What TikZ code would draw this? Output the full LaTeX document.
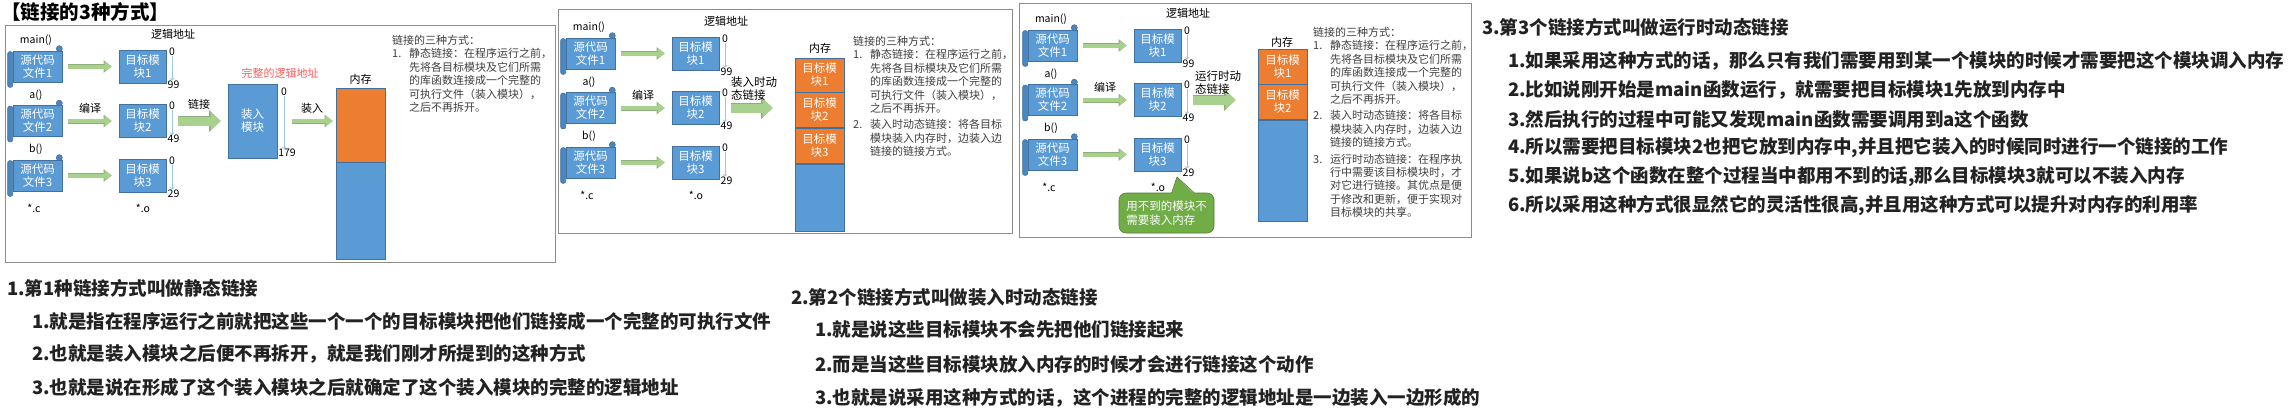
\documentclass[tikz,border=0pt]{standalone}
\usepackage{fontspec}
\setmainfont{Noto Sans CJK SC}
\usetikzlibrary{arrows.meta}

\definecolor{boxblue}{HTML}{5B9BD5}
\definecolor{boxedge}{HTML}{41719C}
\definecolor{rollblue}{HTML}{4A86C2}
\definecolor{memorange}{HTML}{ED7D31}
\definecolor{arrowgreen}{HTML}{A9D18E}
\definecolor{arrowedge}{HTML}{8FAE7A}
\definecolor{notegreen}{HTML}{70AD47}
\definecolor{noteedge}{HTML}{507E32}
\definecolor{addrblue}{HTML}{9DC3E6}
\definecolor{framegray}{HTML}{8C8C8C}
\definecolor{notered}{HTML}{FF5B5B}
\definecolor{descgray}{HTML}{3F3F3F}
\definecolor{listblack}{HTML}{222222}

\begin{document}
\begin{tikzpicture}[
    x=1pt, y=-1pt,
    every node/.style={inner sep=0pt, font=\fontsize{11}{12.5}\selectfont},
    srcfile/.style={fill=boxblue, draw=boxedge, line width=0.6pt, minimum width=49pt,
        minimum height=31pt, align=center, text=white, font=\fontsize{11.5}{13}\selectfont},
    roll/.style={fill=rollblue, draw=boxedge, line width=0.6pt},
    tgtbox/.style={fill=boxblue, draw=boxedge, line width=0.6pt, minimum width=47pt,
        minimum height=33pt, align=center, text=white, font=\fontsize{11.5}{13}\selectfont},
    memcell/.style={draw=boxedge, line width=0.6pt, minimum width=49pt, align=center,
        text=white, font=\fontsize{11.5}{13}\selectfont},
    num/.style={font=\fontsize{10.5}{12}\selectfont},
    addrarrow/.style={draw=addrblue, line width=0.6pt, -{Straight Barb[length=2pt,width=4.5pt]}},
    thinarrow/.style={draw=arrowgreen, line width=4pt, -{Triangle[length=7pt,width=10pt]},
        preaction={draw=arrowedge, line width=5pt, -{Triangle[length=8pt,width=12pt]}}},
    bigarrow/.style={draw=arrowgreen, line width=9pt, -{Triangle[length=10pt,width=18pt]},
        preaction={draw=arrowedge, line width=10pt, -{Triangle[length=11.5pt,width=21pt]}}},
    redtext/.style={text=notered},
    desc/.style={anchor=north west, align=left, text=descgray, font=\fontsize{11}{13.4}\selectfont},
    panel/.style={draw=framegray, line width=0.9pt},
    listhead/.style={anchor=west, text=listblack, font=\fontsize{18.5}{20}\selectfont\bfseries}
]

\path[use as bounding box, fill=white] (0,0) rectangle (2296,416);

\node[anchor=west, font=\fontsize{19.5}{21}\selectfont\bfseries] (title) at (1,12) {【链接的3种方式】};

% ===== panel frames =====
\draw[panel] (5,25) rectangle (555,262);
\draw[panel] (558,9) rectangle (1012,233);
\draw[panel] (1019,3) rectangle (1471,237);

% ===== sources -> object modules, same in all three panels =====
\foreach \p/\dx/\dy in {1/0/0, 2/553/-13, 3/1015/-21}{
  \begin{scope}[shift={(\dx,\dy)}, name prefix=p\p-]
    \node (addrlbl) at (173,34) {逻辑地址};
    \node (compile) at (90,108) {编译};
    \node[num] (cext) at (34,208) {*.c};
    \node[num] (oext) at (143,208) {*.o};
    \foreach \i/\fn/\y/\hiaddr in {1/main()/66.5/99, 2/a()/121/49, 3/b()/175.5/29}{
      \node[num] (fn\i) at (36,\y-26) {\fn};
      \node[srcfile] (src\i) at (37.5,\y) {源代码\\文件\i};
      \filldraw[roll, rounded corners=2pt] ([xshift=-5pt,yshift=-1pt]src\i.north west)
          rectangle ([yshift=-5pt]src\i.south west);
      \filldraw[roll] ([xshift=-3pt,yshift=2pt]src\i.north east) circle (3pt);
      \node[tgtbox] (tgt\i) at (142.5,\y) {目标模\\块\i};
      \draw[thinarrow, shorten <=6pt, shorten >=7pt] (src\i) -- (tgt\i);
      \node[num] (lo\i) at (172,\y-15) {0};
      \node[num] (hi\i) at (173.5,\y+18) {\hiaddr};
      \draw[addrarrow] (lo\i.south) -- (lo\i.south |- hi\i.north);
    }
  \end{scope}
}

% ===== panel 1: static linking =====
\node[tgtbox, minimum width=49pt, minimum height=74pt] (load) at (252.5,121) {装入\\模块};
\draw[bigarrow, shorten <=12pt, shorten >=7pt] (p1-tgt2) -- (load);
\node (link) at (199,104) {链接};
\node[redtext] (fulladdr) at (280,73) {完整的逻辑地址};
\node[num] (ld0) at (284,92) {0};
\node[num] (ld179) at (287,153) {179};
\draw[addrarrow] (ld0.south) -- (ld0.south |- ld179.north);

\node[memcell, fill=memorange, minimum height=74pt] (m1a) at (360.5,125) {};
\node[memcell, fill=boxblue, minimum height=97pt, anchor=north] (m1b) at (m1a.south) {};
\node (mem1) at (360.5,79) {内存};
\draw[thinarrow, shorten <=15pt, shorten >=3pt] (load) -- (load -| m1a.west);
\node (loadlbl) at (312,108) {装入};

\node[desc] (desc1) at (392,35) {链接的三种方式：\\
  \makebox[17pt][l]{1.}静态链接：在程序运行之前，\\
  \hspace*{17pt}先将各目标模块及它们所需\\
  \hspace*{17pt}的库函数连接成一个完整的\\
  \hspace*{17pt}可执行文件（装入模块），\\
  \hspace*{17pt}之后不再拆开。};

% ===== panel 2: load-time dynamic linking =====
\node[memcell, fill=memorange, minimum height=34pt] (m2a) at (819.5,75) {目标模\\块1};
\node[memcell, fill=memorange, minimum height=35pt, anchor=north] (m2b) at (m2a.south) {目标模\\块2};
\node[memcell, fill=memorange, minimum height=35pt, anchor=north] (m2c) at (m2b.south) {目标模\\块3};
\node[memcell, fill=boxblue, minimum height=67pt, anchor=north] (m2d) at (m2c.south) {};
\node (mem2) at (820,48) {内存};
\draw[bigarrow, shorten <=12pt, shorten >=22pt] (p2-tgt2) -- (p2-tgt2 -| m2a.west);
\node[anchor=west, align=left, font=\fontsize{11.5}{13}\selectfont] (dyn2) at (731,89) {装入时动\\态链接};

\node[desc] (desc2) at (853,36) {链接的三种方式：\\
  \makebox[17pt][l]{1.}静态链接：在程序运行之前，\\
  \hspace*{17pt}先将各目标模块及它们所需\\
  \hspace*{17pt}的库函数连接成一个完整的\\
  \hspace*{17pt}可执行文件（装入模块），\\
  \hspace*{17pt}之后不再拆开。\\[3pt]
  \makebox[17pt][l]{2.}装入时动态链接：将各目标\\
  \hspace*{17pt}模块装入内存时，边装入边\\
  \hspace*{17pt}链接的链接方式。};

% ===== panel 3: run-time dynamic linking =====
\node[memcell, fill=memorange, minimum height=35pt] (m3a) at (1282.5,66.5) {目标模\\块1};
\node[memcell, fill=memorange, minimum height=35pt, anchor=north] (m3b) at (m3a.south) {目标模\\块2};
\node[memcell, fill=boxblue, minimum height=101pt, anchor=north] (m3c) at (m3b.south) {};
\node (mem3) at (1282,42) {内存};
\draw[bigarrow, shorten <=12pt, shorten >=22pt] (p3-tgt2) -- (p3-tgt2 -| m3a.west);
\node[anchor=west, align=left, font=\fontsize{11.5}{13}\selectfont] (dyn3) at (1195,83) {运行时动\\态链接};

\node[fill=notegreen, draw=noteedge, line width=0.6pt, rounded corners=7pt, minimum width=95pt,
    minimum height=40pt, align=left, text=white, font=\fontsize{11.5}{14}\selectfont]
    (unused) at (1166.5,213) {用不到的模块不\\需要装入内存};
\coordinate (hint) at (1177,177);
\fill[notegreen] ([xshift=5pt,yshift=-1.5pt]unused.north) -- (hint) -- ([xshift=28pt,yshift=-1.5pt]unused.north) -- cycle;
\draw[noteedge, line width=0.6pt] ([xshift=5pt,yshift=-0.3pt]unused.north) -- (hint) -- ([xshift=28pt,yshift=-0.3pt]unused.north);

\node[desc] (desc3) at (1313,27) {链接的三种方式：\\
  \makebox[17pt][l]{1.}静态链接：在程序运行之前，\\
  \hspace*{17pt}先将各目标模块及它们所需\\
  \hspace*{17pt}的库函数连接成一个完整的\\
  \hspace*{17pt}可执行文件（装入模块），\\
  \hspace*{17pt}之后不再拆开。\\[3pt]
  \makebox[17pt][l]{2.}装入时动态链接：将各目标\\
  \hspace*{17pt}模块装入内存时，边装入边\\
  \hspace*{17pt}链接的链接方式。\\[3pt]
  \makebox[17pt][l]{3.}运行时动态链接：在程序执\\
  \hspace*{17pt}行中需要该目标模块时，才\\
  \hspace*{17pt}对它进行链接。其优点是便\\
  \hspace*{17pt}于修改和更新，便于实现对\\
  \hspace*{17pt}目标模块的共享。};

% ===== notes under the panels =====
\node[listhead] (s1) at (7,288) {1.第1种链接方式叫做静态链接};
\node[listhead] (s1a) at (32,321) {1.就是指在程序运行之前就把这些一个一个的目标模块把他们链接成一个完整的可执行文件};
\node[listhead] (s1b) at (32,354) {2.也就是装入模块之后便不再拆开，就是我们刚才所提到的这种方式};
\node[listhead] (s1c) at (32,387) {3.也就是说在形成了这个装入模块之后就确定了这个装入模块的完整的逻辑地址};

\node[listhead] (s2) at (791,297) {2.第2个链接方式叫做装入时动态链接};
\node[listhead] (s2a) at (815,330) {1.就是说这些目标模块不会先把他们链接起来};
\node[listhead] (s2b) at (815,364) {2.而是当这些目标模块放入内存的时候才会进行链接这个动作};
\node[listhead] (s2c) at (815,398) {3.也就是说采用这种方式的话，这个进程的完整的逻辑地址是一边装入一边形成的};

\node[listhead] (s3) at (1482,27) {3.第3个链接方式叫做运行时动态链接};
\node[listhead] (s3a) at (1508,61) {1.如果采用这种方式的话，那么只有我们需要用到某一个模块的时候才需要把这个模块调入内存};
\node[listhead] (s3b) at (1508,90) {2.比如说刚开始是main函数运行，就需要把目标模块1先放到内存中};
\node[listhead] (s3c) at (1508,119) {3.然后执行的过程中可能又发现main函数需要调用到a这个函数};
\node[listhead] (s3d) at (1508,148) {4.所以需要把目标模块2也把它放到内存中,并且把它装入的时候同时进行一个链接的工作};
\node[listhead] (s3e) at (1508,177) {5.如果说b这个函数在整个过程当中都用不到的话,那么目标模块3就可以不装入内存};
\node[listhead] (s3f) at (1508,206) {6.所以采用这种方式很显然它的灵活性很高,并且用这种方式可以提升对内存的利用率};

\end{tikzpicture}
\end{document}
